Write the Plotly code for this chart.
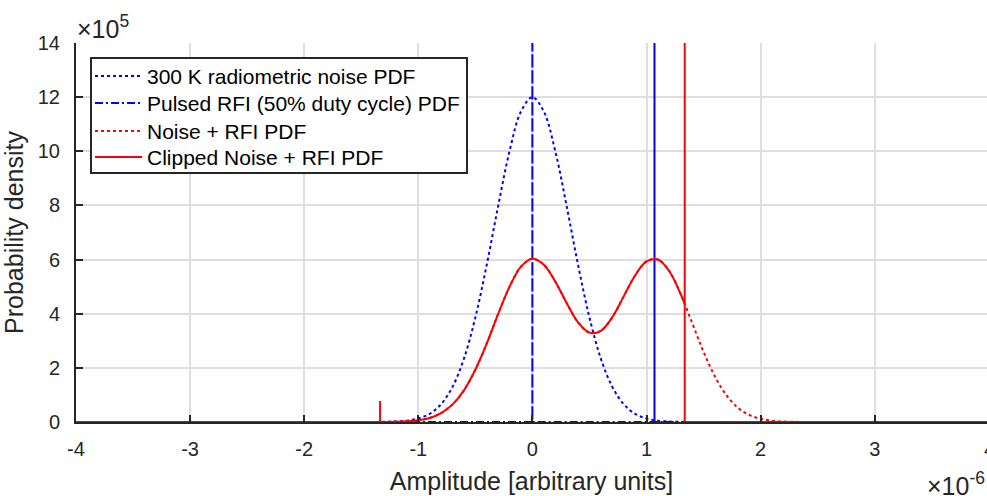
import plotly.graph_objects as go

# ---- data (x in units of 1e-6, y in units of 1e5) ----
series_names = ["300 K radiometric noise PDF", "Pulsed RFI (50% duty cycle) PDF",
                "Noise + RFI PDF", "Clipped Noise + RFI PDF"]

noise_x = [-4, -1.5, -1.4, -1.3, -1.2, -1.1, -1.0, -0.9, -0.8, -0.7, -0.6, -0.5, -0.4, -0.3, -0.2, -0.1,
           0.0, 0.1, 0.2, 0.3, 0.4, 0.5, 0.6, 0.7, 0.8, 0.9, 1.0, 1.1, 1.2, 1.3, 1.4, 1.5, 4]
noise_y = [0, 0, 0.002, 0.006, 0.017, 0.05, 0.13, 0.30, 0.66, 1.30, 2.34, 3.86, 5.81, 7.98, 10.01, 11.47,
           12.0, 11.47, 10.01, 7.98, 5.81, 3.86, 2.34, 1.30, 0.66, 0.30, 0.13, 0.05, 0.017, 0.006, 0.002, 0, 0]

rfi_x = [-4, 0.0, 0.0, 0.0, 4]
rfi_y = [0, 0, 16, 0, 0]
rfi2_x = [1.07, 1.07]
rfi2_y = [0, 16]

mix_x = [-4, -1.5, -1.4, -1.3, -1.2, -1.1, -1.0, -0.9, -0.8, -0.7, -0.6, -0.5, -0.4, -0.3, -0.2, -0.1,
         0.0, 0.1, 0.2, 0.3, 0.4, 0.5, 0.6, 0.7, 0.8, 0.9, 1.0, 1.1, 1.2, 1.3, 1.4, 1.5, 1.6, 1.7,
         1.8, 1.9, 2.0, 2.1, 2.2, 2.3, 2.4, 2.5, 4]
mix_y = [0, 0, 0.001, 0.003, 0.009, 0.025, 0.064, 0.15, 0.33, 0.65, 1.17, 1.93, 2.90, 3.99, 5.00, 5.74,
         6.03, 5.81, 5.19, 4.40, 3.68, 3.30, 3.37, 3.87, 4.64, 5.41, 5.93, 6.00, 5.57, 4.72, 3.66, 2.59,
         1.68, 0.99, 0.53, 0.26, 0.12, 0.049, 0.018, 0.006, 0.002, 0, 0]

clip_x = [-1.335, -1.3, -1.2, -1.1, -1.0, -0.9, -0.8, -0.7, -0.6, -0.5, -0.4, -0.3, -0.2, -0.1,
          0.0, 0.1, 0.2, 0.3, 0.4, 0.5, 0.6, 0.7, 0.8, 0.9, 1.0, 1.1, 1.2, 1.3, 1.335]
clip_y = [0.002, 0.003, 0.009, 0.025, 0.064, 0.15, 0.33, 0.65, 1.17, 1.93, 2.90, 3.99, 5.00, 5.74,
          6.03, 5.81, 5.19, 4.40, 3.68, 3.30, 3.37, 3.87, 4.64, 5.41, 5.93, 6.00, 5.57, 4.72, 4.36]
clip_left_x = [-4, -1.335, -1.335, -1.335]
clip_left_y = [0, 0, 0.78, 0.002]
clip_right_x = [1.335, 1.335, 1.335, 4]
clip_right_y = [4.36, 16, 0, 0]

x_ticks = [-4, -3, -2, -1, 0, 1, 2, 3]
y_ticks = [0, 2, 4, 6, 8, 10, 12, 14]

BLUE = "#0000FF"
RED = "#FF0000"
TXT = "#262626"
FONT = "Liberation Sans, Arial, Helvetica, sans-serif"

styles = [
    dict(color=BLUE, width=2, dash="dot"),
    dict(color=BLUE, width=2, dash="8px,3px,2px,3px"),
    dict(color=RED, width=2, dash="dot"),
    dict(color=RED, width=2, dash="solid"),
]

fig = go.Figure()
fig.add_trace(go.Scatter(x=noise_x, y=noise_y, mode="lines", line=dict(**styles[0], shape="spline"),
                         name=series_names[0], showlegend=False))
fig.add_trace(go.Scatter(x=rfi_x, y=rfi_y, mode="lines", line=styles[1],
                         name=series_names[1], showlegend=False))
fig.add_trace(go.Scatter(x=rfi2_x, y=rfi2_y, mode="lines", line=dict(color=BLUE, width=2),
                         name=series_names[1], showlegend=False))
fig.add_trace(go.Scatter(x=mix_x, y=mix_y, mode="lines", line=dict(**styles[2], shape="spline"),
                         name=series_names[2], showlegend=False))
fig.add_trace(go.Scatter(x=clip_x, y=clip_y, mode="lines", line=dict(**styles[3], shape="spline"),
                         name=series_names[3], showlegend=False))
fig.add_trace(go.Scatter(x=clip_left_x, y=clip_left_y, mode="lines", line=styles[3],
                         name=series_names[3], showlegend=False))
fig.add_trace(go.Scatter(x=clip_right_x, y=clip_right_y, mode="lines", line=styles[3],
                         name=series_names[3], showlegend=False))

L, T, W, H = 76, 43, 987, 496
PW = 911
PH = 379


def px(x):
    return (x - L) / PW


def py(y):
    return (T + PH - y) / PH


# ---- legend box (drawn by hand to match the reference layout) ----
shapes = [dict(type="rect", xref="paper", yref="paper", x0=px(91), x1=px(467), y0=py(58), y1=py(173),
               line=dict(color=TXT, width=2), fillcolor="white", layer="above")]
annotations = []
row_y = [76, 103, 131, 157]
for name, st, ry in zip(series_names, styles, row_y):
    shapes.append(dict(type="line", xref="paper", yref="paper", x0=px(95), x1=px(142), y0=py(ry), y1=py(ry),
                       line=st, layer="above"))
    annotations.append(dict(xref="paper", yref="paper", x=px(145), y=py(ry), xanchor="left", yanchor="middle",
                            text=name, showarrow=False, font=dict(size=21, color="black")))

annotations += [
    dict(xref="paper", yref="paper", x=px(75), y=py(27), xanchor="left", yanchor="middle",
         text="×10<sup>5</sup>", showarrow=False, font=dict(size=25, color=TXT)),
    dict(xref="paper", yref="paper", x=px(925), y=py(484), xanchor="left", yanchor="middle",
         text="×10<sup>-6</sup>", showarrow=False, font=dict(size=25, color=TXT)),
    dict(xref="paper", yref="paper", x=px(989), y=0, xanchor="center", yanchor="top", yshift=-14,
         text="4", showarrow=False, font=dict(size=20, color=TXT)),
]

fig.update_layout(
    width=W, height=H,
    margin=dict(l=L, r=W - L - PW, t=T, b=H - T - PH, pad=0),
    paper_bgcolor="white", plot_bgcolor="white",
    font=dict(family=FONT, color=TXT, size=20),
    showlegend=False,
    xaxis=dict(range=[-4, -4 + PW / 114.1], tickvals=x_ticks, ticktext=[str(v) for v in x_ticks],
               showgrid=True, gridcolor="#dedede", gridwidth=1.5, zeroline=False,
               showline=True, linecolor=TXT, linewidth=2,
               ticks="inside", ticklen=7, tickwidth=2, tickcolor=TXT,
               tickfont=dict(size=20, color=TXT), ticklabelstandoff=8,
               title=dict(text="Amplitude [arbitrary units]", font=dict(size=25, color=TXT), standoff=13)),
    yaxis=dict(range=[0, 14], tickvals=y_ticks,
               showgrid=True, gridcolor="#dedede", gridwidth=1.5, zeroline=False,
               showline=True, linecolor=TXT, linewidth=2,
               ticks="inside", ticklen=7, tickwidth=2, tickcolor=TXT,
               tickfont=dict(size=20, color=TXT), ticklabelstandoff=10,
               title=dict(text="Probability density", font=dict(size=25, color=TXT), standoff=8)),
    shapes=shapes,
    annotations=annotations,
)

fig.write_html("out.html")
